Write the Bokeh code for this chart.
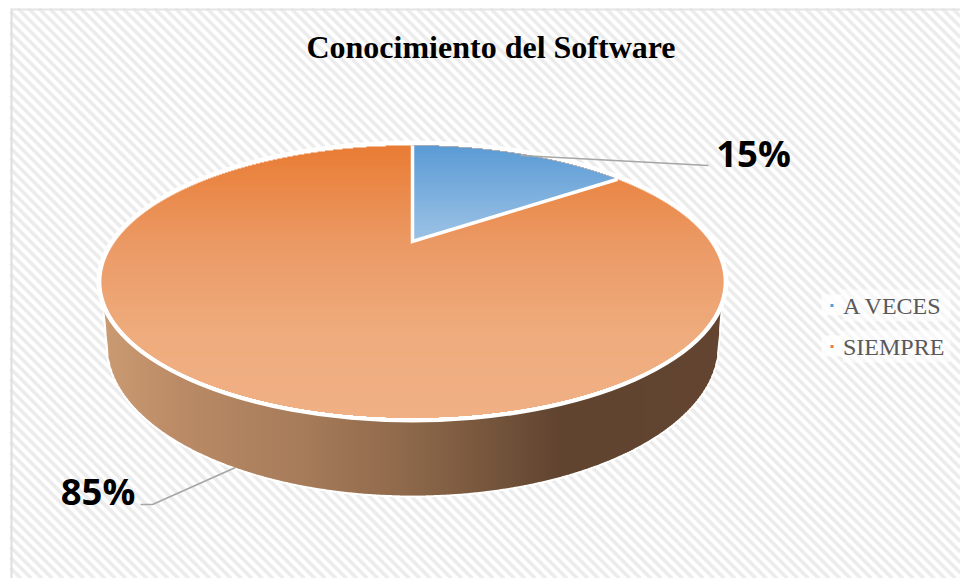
import numpy as np
from bokeh.plotting import figure
from bokeh.models import Range1d
from bokeh.embed import file_html
from bokeh.resources import INLINE
from bokeh.core.properties import value

title_text = "Conocimiento del Software"
categories = ["A VECES", "SIEMPRE"]
shares = [15, 85]
labels = ["15%", "85%"]
cat_colors = ["#5b9bd5", "#ed7d31"]

W, H = 960, 578
p = figure(width=W, height=H, output_backend="svg", toolbar_location=None,
           x_range=Range1d(0, W), y_range=Range1d(H, 0),
           min_border=0, outline_line_color=None,
           background_fill_color="white", border_fill_color="white")
p.axis.visible = False
p.grid.visible = False


def lerp_hex(a, b, t):
    a = [int(a[i:i + 2], 16) for i in (1, 3, 5)]
    b = [int(b[i:i + 2], 16) for i in (1, 3, 5)]
    return "#%02x%02x%02x" % tuple(int(round(u + (v - u) * t)) for u, v in zip(a, b))


def ramp(x, stops_x, stops_c):
    i = min(max(int(np.searchsorted(stops_x, x)) - 1, 0), len(stops_x) - 2)
    t = (x - stops_x[i]) / (stops_x[i + 1] - stops_x[i])
    return lerp_hex(stops_c[i], stops_c[i + 1], min(max(t, 0), 1))


# chart area: border + diagonal stripes
L, T, R, B = 10, 8, 960, 578
xs, ys = [], []
period = 10.5
for c in np.arange(L - (B - T), R + period, period):
    x0, y0 = c, T
    x1, y1 = c + (B - T), B
    if x0 < L:
        y0 += L - x0
        x0 = L
    if x1 > R:
        y1 -= x1 - R
        x1 = R
    if x1 > x0:
        xs.append([x0, x1])
        ys.append([y0, y1])
p.multi_line(xs, ys, line_color="#ececec", line_width=3.6)
p.line([L + 1, L + 1], [T, B], line_color="#dedede", line_width=2)
p.line([L, R], [T + 1, T + 1], line_color="#e4e4e4", line_width=2)

# pie geometry
cx, cy, rx, ry = 412, 281, 311, 136
apex_y = 241
by, brx, bry = 345, 305, 150
e = (cy - apex_y) / ry


def top_half(x):
    return np.sqrt(np.clip(1 - ((x - cx) / rx) ** 2, 0, 1)) * ry


# side wall, in thin slanted columns
wall_x = np.arange(cx - 308, cx + 308, 2.0)
stops_x = [105, 180, 300, 420, 560, 720]
stops_c = ["#c99a72", "#ba8a66", "#a67c5a", "#8a6648", "#604430", "#624530"]
wall_colors = [ramp(x, stops_x, stops_c) for x in wall_x]


def wall_bottom(x):
    d = np.abs(np.asarray(x, dtype=float) - cx)
    return np.where(
        d <= brx,
        by + bry * np.sqrt(np.clip(1 - (d / brx) ** 2, 0, 1)),
        by - (d - brx) / 3 * 33,
    )


def wall_top(x):
    return cy + top_half(x) - 3


edge = np.arange(cx - 308, cx + 308.5, 2.0)
p.line(edge, wall_bottom(edge), line_color="white", line_width=4)
col_x, col_y = [], []
for x in wall_x:
    x2 = min(x + 2.0, cx + 308)
    x3 = min(x + 2.6, cx + 308)
    col_x.append([x, x3, x3, x])
    col_y.append([float(wall_top(x)), float(wall_top(x2)), float(wall_bottom(x2)), float(wall_bottom(x))])
p.patches(col_x, col_y, fill_color=wall_colors, line_color=None)


# top face, drawn in horizontal bands
def orange(y):
    return ramp(y, [145, 245, 335, 417], ["#e97c34", "#eb9a66", "#efac7e", "#f0b084"])


def blue(y):
    return lerp_hex("#5b9bd5", "#f0f4fa", min(max((y - 145) / 215, 0), 1))


p.ellipse(x=[cx], y=[cy], width=[2 * rx + 10], height=[2 * ry + 10], fill_color="white", line_color=None)
rows = np.arange(cy - ry, cy + ry, 1.0)
half = rx * np.sqrt(np.clip(1 - ((rows + 0.5 - cy) / ry) ** 2, 0, 1))
p.quad(left=cx - half, right=cx + half, top=rows, bottom=rows + 1.5,
       fill_color=[orange(y) for y in rows], line_color=None)

# first slice: its edge comes from the share through the perspective of the top face
theta = 2 * np.pi * shares[0] / sum(shares)
ex = np.sin(theta) * np.sqrt(1 - e ** 2) / (1 + e * np.cos(theta))
ey = (np.cos(theta) + e) / (1 + e * np.cos(theta))
edge_x, edge_y = cx + rx * ex, cy - ry * ey

b_rows = np.arange(cy - ry, apex_y, 1.0)
b_right = []
for y in b_rows:
    yc = y + 0.5
    arc = rx * np.sqrt(max(1 - ((yc - cy) / ry) ** 2, 0))
    if yc > edge_y:
        arc = min(arc, (edge_x - cx) * (apex_y - yc) / (apex_y - edge_y))
    b_right.append(cx + arc)
p.quad(left=cx, right=b_right, top=b_rows, bottom=b_rows + 1.5,
       fill_color=[blue(y) for y in b_rows], line_color=None)
p.line([cx, cx, edge_x], [cy - ry, apex_y, edge_y], line_color="white", line_width=3.5,
       line_join="miter")

# leader lines
p.line([520, 708], [155, 165], line_color="#a6a6a6", line_width=1.6)
p.line([140, 152, 235], [504, 504, 467], line_color="#a6a6a6", line_width=1.6)

# texts
p.text(x=[490.5], y=[46], text=[title_text], text_font=value("Liberation Serif"),
       text_font_style="bold", text_font_size="32px", text_color="black",
       text_align="center", text_baseline="middle")
p.text(x=[753], y=[152], text=[labels[0]], text_font=value("Open Sans"), text_font_style="bold",
       text_font_size="36.5px", text_color="black", text_align="center", text_baseline="middle")
p.text(x=[97.5], y=[490], text=[labels[1]], text_font=value("Open Sans"), text_font_style="bold",
       text_font_size="36.5px", text_color="black", text_align="center", text_baseline="middle")

# legend
leg_y = [305, 346]
p.quad(left=[821, 821], right=[842, 842], top=[y - 11 for y in leg_y], bottom=[y + 10 for y in leg_y],
       fill_color="white", fill_alpha=0.85, line_color=None)
p.quad(left=[842, 842], right=[950, 950], top=[y - 16 for y in leg_y], bottom=[y + 16 for y in leg_y],
       fill_color="white", fill_alpha=0.6, line_color=None)
p.scatter(x=[831.5, 831.5], y=leg_y, marker="square", size=3, fill_color=cat_colors, line_color=None)
p.text(x=[842.5, 842.5], y=leg_y, text=categories, text_font=value("Liberation Serif"),
       text_font_size="24px", text_color="#595959", text_align="left", text_baseline="middle")

open("out.html", "w").write(file_html(p, INLINE))
